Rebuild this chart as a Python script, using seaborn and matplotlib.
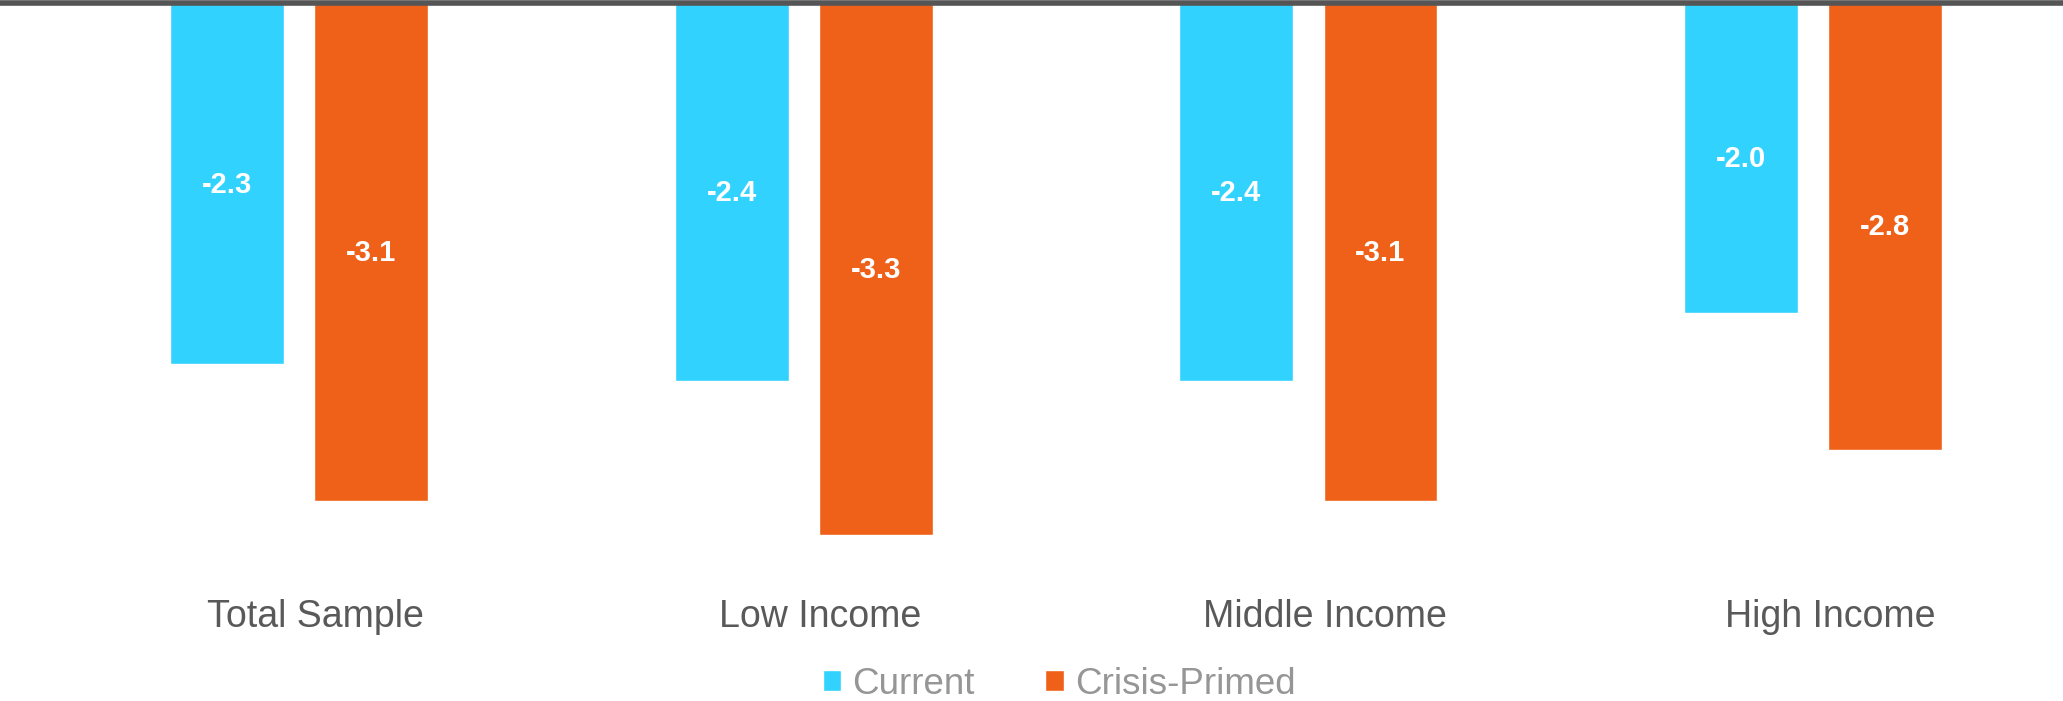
import matplotlib
matplotlib.use("Agg")
import matplotlib.pyplot as plt
import matplotlib.transforms as mtransforms
import numpy as np
import pandas as pd
import seaborn as sns

# Survey results by income group
categories = ["Total Sample", "Low Income", "Middle Income", "High Income"]
series_names = ["Current", "Crisis-Primed"]
current_values = [-2.3, -2.4, -2.4, -2.0]
crisis_values = [-3.1, -3.3, -3.1, -2.8]

colors = {"Current": "#32D2FF", "Crisis-Primed": "#EF6019"}

df = pd.DataFrame({
    "group": categories * 2,
    "series": [series_names[0]] * len(categories) + [series_names[1]] * len(categories),
    "value": current_values + crisis_values,
})

sns.set_theme(style="white")
plt.rcParams["font.family"] = ["Liberation Sans", "DejaVu Sans"]

W, H, DPI = 2063, 701, 100
fig = plt.figure(figsize=(W / DPI, H / DPI), dpi=DPI)

# axes geometry in pixels
top_px, bottom_px = 2.7, 585.0
ax = fig.add_axes([0.0, 1 - bottom_px / H, 1.0, (bottom_px - top_px) / H])

sns.barplot(data=df, x="group", y="value", hue="series", order=categories,
            hue_order=series_names, palette=colors, width=0.571, gap=0.21,
            saturation=1.0, ax=ax)

# vertical scale: zero sits just above the visible frame
px_per_unit = 170.6
zero_px = -28.0
y_top = -(top_px - zero_px) / px_per_unit
y_bottom = -(bottom_px - zero_px) / px_per_unit
ax.set_ylim(y_bottom, y_top)
ax.set_xlim(-299 / 504.7, -299 / 504.7 + W / 504.7)

for s in ["left", "right", "bottom"]:
    ax.spines[s].set_visible(False)
ax.spines["top"].set_color("#555555")
ax.spines["top"].set_linewidth(5.6 * 72 / DPI)
ax.set_xticks([])
ax.set_yticks([])
ax.set_xlabel("")
ax.set_ylabel("")

# value labels centred in the visible part of each bar
vis_top = -(5.0 - zero_px) / px_per_unit
for container, vals in zip(ax.containers, [current_values, crisis_values]):
    for bar, v in zip(container, vals):
        cx = bar.get_x() + bar.get_width() / 2
        ax.text(cx, (v + vis_top) / 2, f"{v:.1f}", ha="center", va="center",
                color="white", fontsize=21, fontweight="bold")

# category labels below the bars
trans = mtransforms.blended_transform_factory(ax.transData, fig.transFigure)
for i, name in enumerate(categories):
    ax.text(i + 0.033, 1 - 627 / H, name, transform=trans, ha="center",
            va="baseline", fontsize=27, color="#595959", clip_on=False)

# legend at the bottom of the figure
handles, labels = ax.get_legend_handles_labels()
if ax.get_legend() is not None:
    ax.get_legend().remove()
leg = fig.legend(handles, labels, loc="center", bbox_to_anchor=(1059 / W, 1 - 684 / H),
                 ncol=2, frameon=False, fontsize=26.5, handlelength=0.5,
                 handleheight=0.5, handletextpad=0.3, columnspacing=1.93,
                 borderpad=0, borderaxespad=0)
for t in leg.get_texts():
    t.set_color("#969696")

fig.savefig("out.png", dpi=DPI)
